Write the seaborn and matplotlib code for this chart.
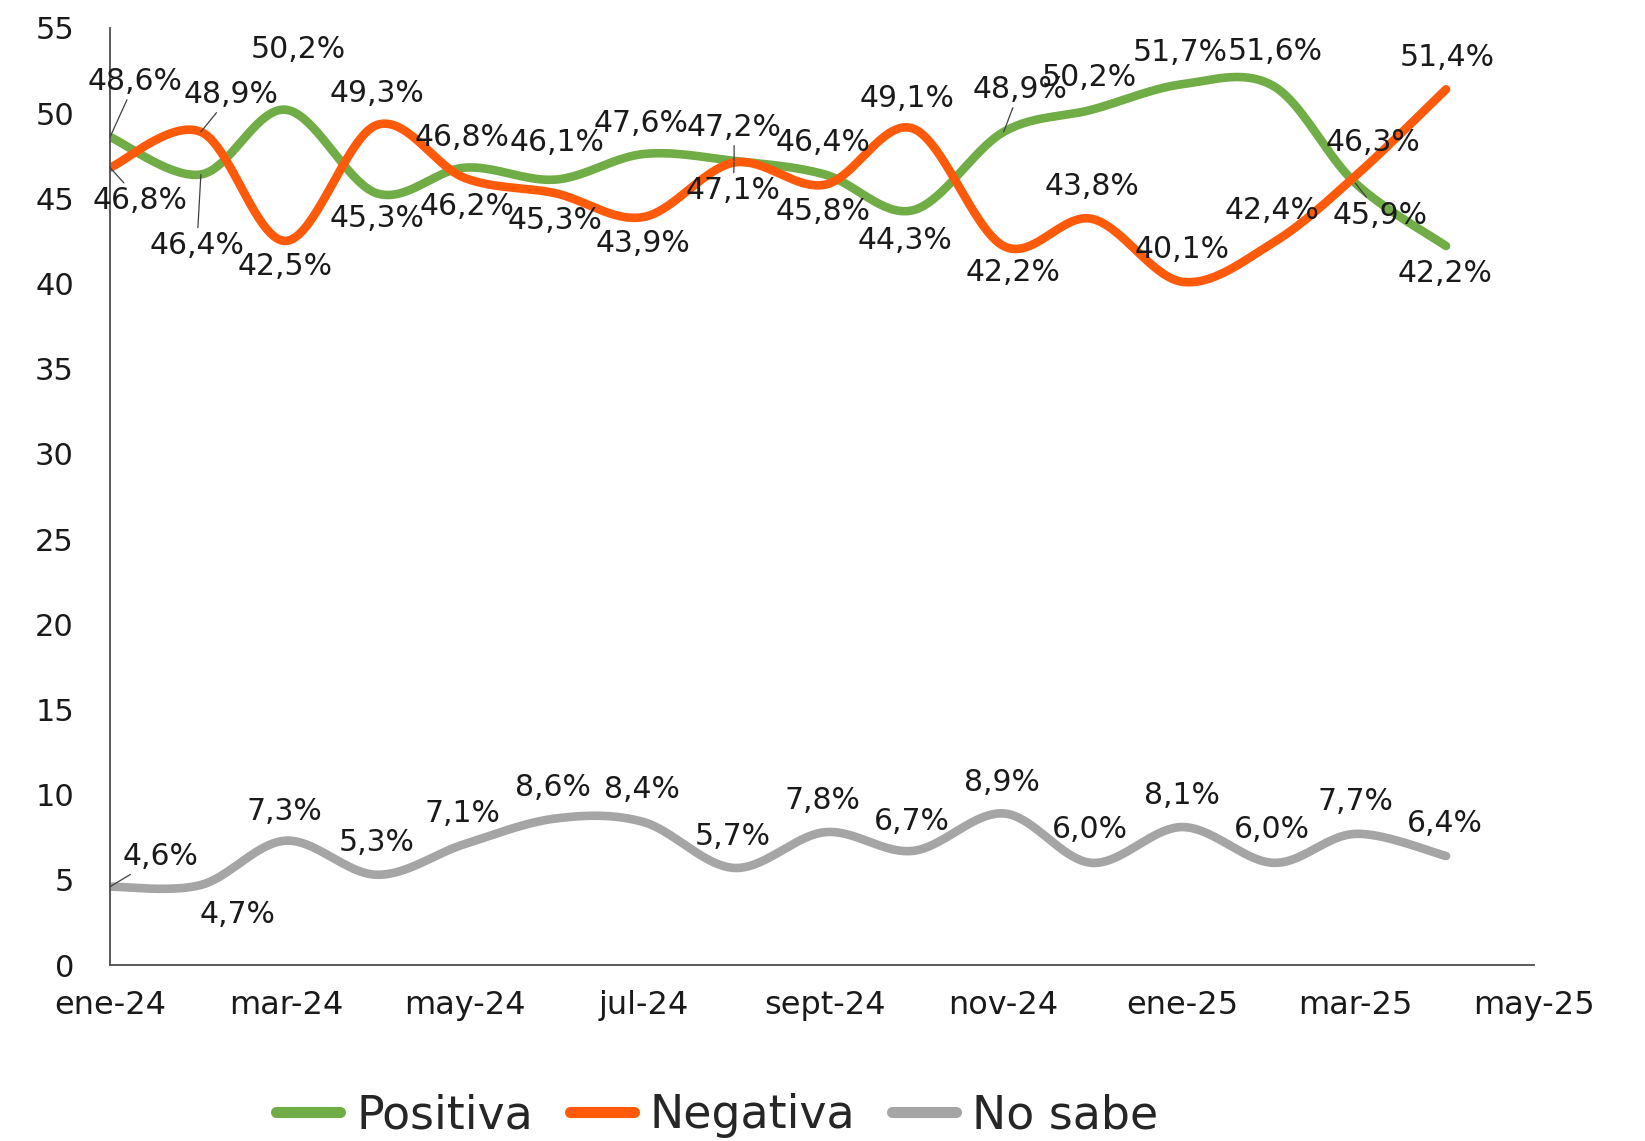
import numpy as np
import pandas as pd
import matplotlib
matplotlib.use("Agg")
import matplotlib.pyplot as plt
import matplotlib.dates as mdates
from matplotlib.lines import Line2D
import seaborn as sns

# ---------------- data ----------------
months = pd.date_range("2024-01-01", periods=16, freq="MS")
positiva = [48.6, 46.4, 50.2, 45.3, 46.8, 46.1, 47.6, 47.2, 46.4, 44.3, 48.9, 50.2, 51.7, 51.6, 45.9, 42.2]
negativa = [46.8, 48.9, 42.5, 49.3, 46.2, 45.3, 43.9, 47.1, 45.8, 49.1, 42.2, 43.8, 40.1, 42.4, 46.3, 51.4]
no_sabe = [4.6, 4.7, 7.3, 5.3, 7.1, 8.6, 8.4, 5.7, 7.8, 6.7, 8.9, 6.0, 8.1, 6.0, 7.7, 6.4]
series_names = ["Positiva", "Negativa", "No sabe"]
tick_dates = pd.date_range("2024-01-01", "2025-05-01", freq="2MS")
tick_labels = ["ene-24", "mar-24", "may-24", "jul-24", "sept-24", "nov-24", "ene-25", "mar-25", "may-25"]

# ---------------- style ----------------
colors = {"Positiva": "#70AD47", "Negativa": "#FF5A0A", "No sabe": "#A5A5A5"}
# label offsets (dx, dy in px, screen-down positive) and leader-line flags
offs = {
    "Positiva": [(25, -55, 1), (-4, 71, 1), (12, -60, 0), (0, 25, 0), (-3, -30, 0), (2, -37, 0),
                 (-2, -31, 0), (0, -33, 1), (-2, -32, 0), (-8, 30, 0), (16, -42, 1), (-2, -32, 0),
                 (-2, -32, 0), (2, -34, 0), (25, 32, 1), (-1, 27, 0)],
    "Negativa": [(30, 33, 1), (30, -37, 1), (-1, 26, 0), (0, -32, 0), (2, 29, 0), (0, 27, 0),
                 (0, 26, 0), (-1, 28, 1), (-2, 27, 0), (-6, -30, 0), (9, 26, 0), (0, -32, 0),
                 (0, -32, 0), (-1, -32, 0), (18, -34, 0), (1, -32, 0)],
    "No sabe": [(50, -30, 1), (37, 30, 0), (-1, -29, 0), (0, -32, 0), (-2, -31, 0), (-2, -31, 0),
                (-1, -32, 0), (-1, -31, 0), (-2, -32, 0), (-1, -29, 0), (-2, -31, 0), (-2, -33, 0),
                (0, -32, 0), (-1, -33, 0), (0, -32, 0), (-1, -33, 0)],
}


def smooth(x, y, n=40):
    """Catmull-Rom style smoothing (as Excel smoothed lines)."""
    x = np.asarray(x, float)
    y = np.asarray(y, float)
    px = np.concatenate([[x[0]], x, [x[-1]]])
    py = np.concatenate([[y[0]], y, [y[-1]]])
    xs, ys = [], []
    t = np.linspace(0, 1, n, endpoint=False)
    for i in range(1, len(px) - 2):
        p0, p1, p2, p3 = (px[i - 1], py[i - 1]), (px[i], py[i]), (px[i + 1], py[i + 1]), (px[i + 2], py[i + 2])
        c1 = (p1[0] + (p2[0] - p0[0]) / 6, p1[1] + (p2[1] - p0[1]) / 6)
        c2 = (p2[0] - (p3[0] - p1[0]) / 6, p2[1] - (p3[1] - p1[1]) / 6)
        b0 = (1 - t) ** 3
        b1 = 3 * (1 - t) ** 2 * t
        b2 = 3 * (1 - t) * t ** 2
        b3 = t ** 3
        xs.append(b0 * p1[0] + b1 * c1[0] + b2 * c2[0] + b3 * p2[0])
        ys.append(b0 * p1[1] + b1 * c1[1] + b2 * c2[1] + b3 * p2[1])
    xs.append([x[-1]])
    ys.append([y[-1]])
    return np.concatenate(xs), np.concatenate(ys)


sns.set_theme(style="white")
plt.rcParams["font.family"] = ["DejaVu Sans"]

xnum = mdates.date2num(months)
frames = []
for name, vals in zip(series_names, [positiva, negativa, no_sabe]):
    sx, sy = smooth(xnum, vals)
    frames.append(pd.DataFrame({"x": sx, "y": sy, "serie": name}))
df = pd.concat(frames, ignore_index=True)

fig = plt.figure(figsize=(16.45, 11.41), dpi=100)
ax = fig.add_axes([0.0669, 0.1542, 0.8656, 0.8213])

sns.lineplot(data=df, x="x", y="y", hue="serie", palette=colors, sort=False,
             estimator=None, linewidth=6.2, legend=False, ax=ax)
for ln in ax.get_lines():
    ln.set_solid_capstyle("round")

# data labels
for name, vals in zip(series_names, [positiva, negativa, no_sabe]):
    for xv, v, (dx, dy, lead) in zip(xnum, vals, offs[name]):
        txt = f"{v:.1f}%".replace(".", ",")
        kw = {}
        if lead:
            kw["arrowprops"] = dict(arrowstyle="-", color="#404040", lw=0.9, shrinkA=0, shrinkB=0)
        ax.annotate(txt, xy=(xv, v), xytext=(dx, -dy), textcoords="offset pixels",
                    ha="center", va="center", fontsize=21.5, color="#1a1a1a", zorder=5, **kw)

ax.set_xlim(mdates.date2num(pd.Timestamp("2024-01-01")), mdates.date2num(pd.Timestamp("2025-05-01")))
ax.set_ylim(0, 55)
ax.set_yticks(np.arange(0, 56, 5))
ax.set_xticks(mdates.date2num(tick_dates))
ax.set_xticklabels(tick_labels)
ax.set_xlabel("")
ax.set_ylabel("")
for s in ["top", "right"]:
    ax.spines[s].set_visible(False)
for s in ["left", "bottom"]:
    ax.spines[s].set_color("#4d4d4d")
    ax.spines[s].set_linewidth(1.3)
ax.tick_params(axis="both", direction="out", length=6, width=1.3, color="#4d4d4d",
               labelsize=22, labelcolor="#1a1a1a")
ax.tick_params(axis="x", pad=12, labelsize=23)
ax.tick_params(axis="y", pad=20)
ax.grid(False)

handles = [Line2D([0], [0], color=colors[n], lw=8, solid_capstyle="round") for n in series_names]
fig.legend(handles, series_names, loc="center", bbox_to_anchor=(0.436, 0.022), ncol=3,
           frameon=False, fontsize=33, handlelength=1.4, handletextpad=0.35, columnspacing=0.8)

fig.savefig("out.png", dpi=100)
